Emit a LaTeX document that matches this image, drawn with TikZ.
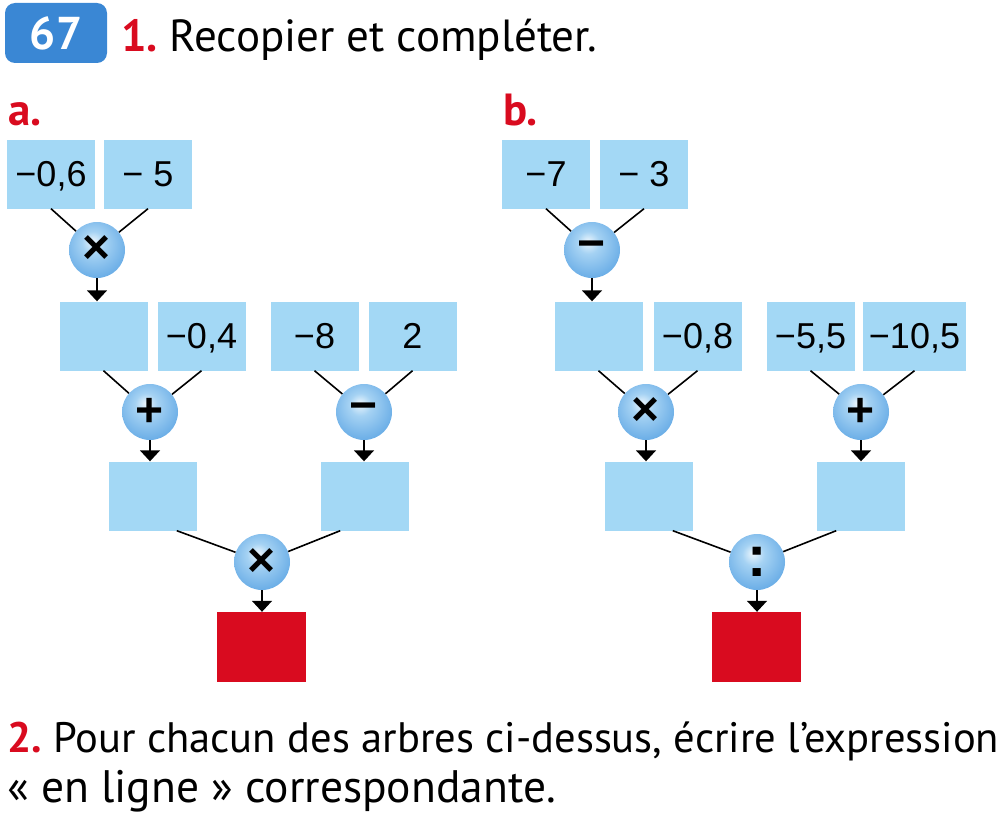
\documentclass[tikz,border=0pt]{standalone}
\usepackage{fontspec}
\setmainfont{PT Sans}
\newfontfamily\numfont{Liberation Sans}
\usetikzlibrary{arrows.meta}
\definecolor{boxblue}{RGB}{163,216,245}
\definecolor{resred}{RGB}{217,11,31}
\definecolor{tagblue}{RGB}{58,135,212}
\definecolor{ballhi}{RGB}{236,246,253}
\definecolor{ballmid}{RGB}{165,210,243}
\definecolor{ballout}{RGB}{104,172,230}
\definecolor{ballrim}{RGB}{84,152,218}
\pgfdeclareradialshading{opball}{\pgfpoint{-4bp}{8bp}}{color(0bp)=(ballhi); color(10bp)=(ballmid); color(30bp)=(ballout); color(50bp)=(ballrim); color(60bp)=(ballrim)}
\begin{document}
\begin{tikzpicture}[x=1pt,y=-1pt,
  val/.style={fill=boxblue,minimum width=88pt,minimum height=69pt,inner sep=6pt,text height=25pt,text depth=0pt,font=\numfont\fontsize{36}{40}\selectfont},
  res/.style={fill=resred,minimum width=89pt,minimum height=70pt},
  op/.style={circle,shading=opball,minimum size=56pt,inner sep=0pt,font=\numfont\bfseries\fontsize{48}{50}\selectfont},
  link/.style={line width=1.6pt},
  feed/.style={line width=1.6pt,-{Triangle[width=20pt,length=11pt]}},
  big/.style={inner sep=0pt,font=\fontsize{45}{54}\selectfont}]
\useasboundingbox (0,0) rectangle (1000,824);
\node [fill=tagblue,rounded corners=10pt,minimum width=102pt,minimum height=60pt,text=white,font=\bfseries\fontsize{46}{54}\selectfont] (n0) at (56,33) {67};
\node [big,anchor=base west] (n1) at (121,52) {\textcolor{resred}{\bfseries 1.}\ Recopier et compléter.};
\node [big,anchor=base west,text=resred,font=\bfseries\fontsize{45}{54}\selectfont] (la) at (8,125) {a.};
\node [big,anchor=base west,text=resred,font=\bfseries\fontsize{45}{54}\selectfont] (lb) at (503,125) {b.};
\node [val] (na1) at (51,174) {−0,6};
\node [val] (na2) at (148,174) {− 5};
\node [op] (na3) at (97,250) {×};
\node [val] (na4) at (103.5,336) {};
\node [val] (na5) at (201.5,336) {−0,4};
\node [val] (na6) at (314.5,336) {−8};
\node [val] (na7) at (412.5,336) {2};
\node [op] (na8) at (150,412) {+};
\node [op] (na9) at (364,412) {−};
\node [val] (na10) at (152.5,496) {};
\node [val] (na11) at (364.5,496) {};
\node [op] (na12) at (262,562) {×};
\node [res] (na13) at (261.5,647) {};
\draw [link] (na1.south) -- (na3);
\draw [link] (na2.south) -- (na3);
\draw [feed] (na3) -- (na3 |- na4.north);
\draw [link] (na4.south) -- (na8);
\draw [link] (na5.south) -- (na8);
\draw [link] (na6.south) -- (na9);
\draw [link] (na7.south) -- (na9);
\draw [feed] (na8) -- (na8 |- na10.north);
\draw [feed] (na9) -- (na9 |- na11.north);
\draw [link] (na10.-55) -- (na12);
\draw [link] (na11.-125) -- (na12);
\draw [feed] (na12) -- (na12 |- na13.north);
\node [val] (nb1) at (546,174) {−7};
\node [val] (nb2) at (644,174) {− 3};
\node [op] (nb3) at (592,250) {−};
\node [val] (nb4) at (598.5,336) {};
\node [val] (nb5) at (697.5,336) {−0,8};
\node [val] (nb6) at (810.5,336) {−5,5};
\node [val] (nb7) at (914.5,336) {−10,5};
\node [op] (nb8) at (646,412) {×};
\node [op] (nb9) at (861,412) {+};
\node [val] (nb10) at (648.5,496) {};
\node [val] (nb11) at (860.5,496) {};
\node [op,font=\numfont\bfseries\fontsize{58}{60}\selectfont] (nb12) at (757,562) {:};
\node [res] (nb13) at (756.5,647) {};
\draw [link] (nb1.south) -- (nb3);
\draw [link] (nb2.south) -- (nb3);
\draw [feed] (nb3) -- (nb3 |- nb4.north);
\draw [link] (nb4.south) -- (nb8);
\draw [link] (nb5.south) -- (nb8);
\draw [link] (nb6.south) -- (nb9);
\draw [link] (nb7.south) -- (nb9);
\draw [feed] (nb8) -- (nb8 |- nb10.north);
\draw [feed] (nb9) -- (nb9 |- nb11.north);
\draw [link] (nb10.-55) -- (nb12);
\draw [link] (nb11.-125) -- (nb12);
\draw [feed] (nb12) -- (nb12 |- nb13.north);
\node [big,anchor=base west,font=\fontsize{42.6}{54}\selectfont] (n2) at (7,752) {\textcolor{resred}{\bfseries 2.}\ Pour chacun des arbres ci-dessus, écrire l’expression};
\node [big,anchor=base west,font=\fontsize{45.5}{54}\selectfont] (n3) at (7,802) {« en ligne » correspondante.};
\end{tikzpicture}
\end{document}
